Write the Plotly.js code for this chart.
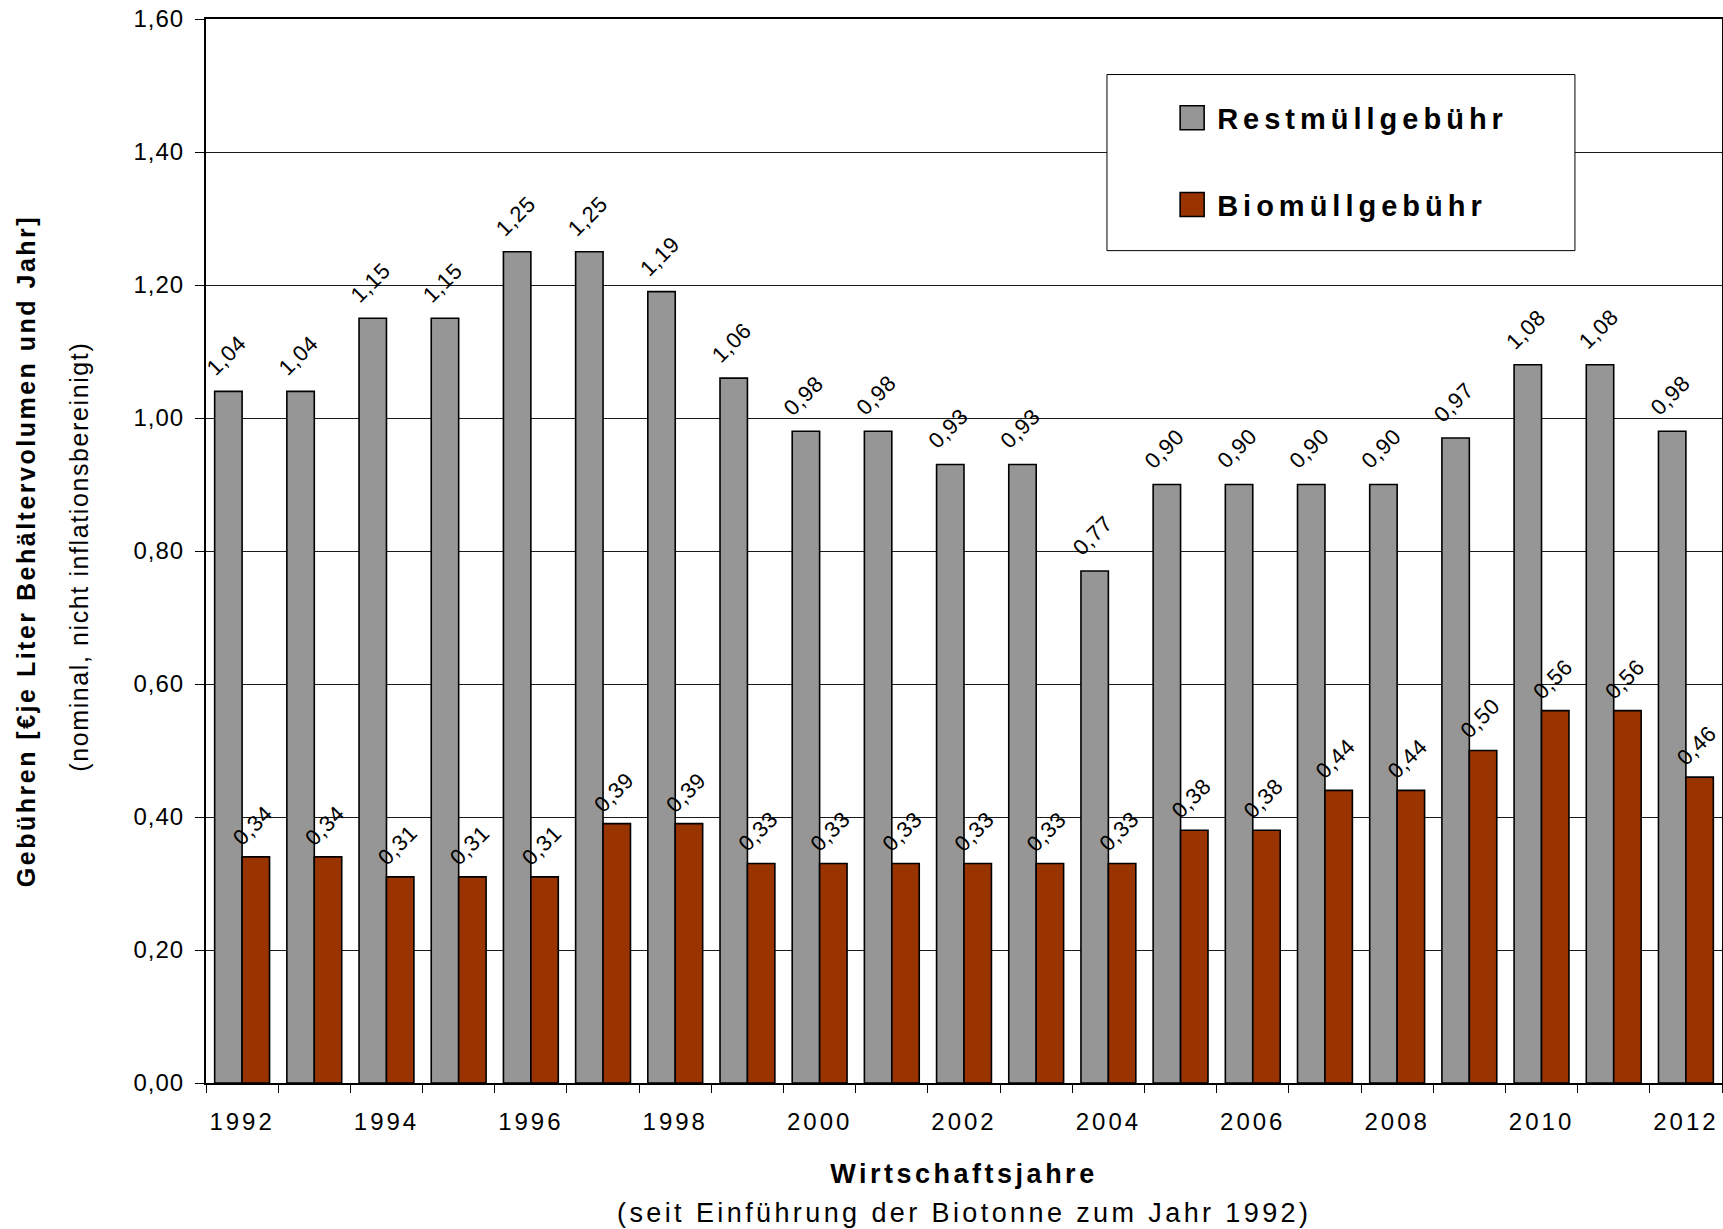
<!DOCTYPE html>
<html>
<head>
<meta charset="utf-8">
<script src="https://cdn.plot.ly/plotly-3.0.1.min.js"></script>
<style>
  html, body { margin: 0; padding: 0; background: #fff; overflow: hidden; }
  #chart { width: 1723px; height: 1229px; }
  .xtick text { letter-spacing: 3px; }
  .ytick text { letter-spacing: 1px; }
  text.xtitle { letter-spacing: 3.5px; }
  text.ytitle { letter-spacing: 2.5px; }
  .legendtext { letter-spacing: 5px; }
</style>
</head>
<body>
<div id="chart"></div>
<script>
// ---- data ----
const years = ['1992','1993','1994','1995','1996','1997','1998','1999','2000','2001','2002',
               '2003','2004','2005','2006','2007','2008','2009','2010','2011','2012'];
const tickLabels = ['1992','','1994','','1996','','1998','','2000','','2002',
                    '','2004','','2006','','2008','','2010','','2012'];
const restmuell = [1.04,1.04,1.15,1.15,1.25,1.25,1.19,1.06,0.98,0.98,0.93,
                   0.93,0.77,0.90,0.90,0.90,0.90,0.97,1.08,1.08,0.98];
const biomuell  = [0.34,0.34,0.31,0.31,0.31,0.39,0.39,0.33,0.33,0.33,0.33,
                   0.33,0.33,0.38,0.38,0.44,0.44,0.50,0.56,0.56,0.46];
const seriesNames = ['Restmüllgebühr','Biomüllgebühr'];
const yTitle = 'Gebühren [€je Liter Behältervolumen und Jahr]';
const ySubtitle = '(nominal, nicht inflationsbereinigt)';
const xTitle = 'Wirtschaftsjahre';
const xSubtitle = '(seit Einführung der Biotonne zum Jahr 1992)';

const FONT = 'Liberation Sans, Arial, Helvetica, sans-serif';
const fmt = v => v.toFixed(2).replace('.', ',');

const traces = [
  { type: 'bar', name: seriesNames[0], x: years, y: restmuell, legendgroup: 'a',
    marker: { color: '#969696', line: { color: '#000', width: 1.6 } }, hoverinfo: 'skip' },
  { type: 'bar', name: seriesNames[1], x: years, y: biomuell, legendgroup: 'b',
    marker: { color: '#993300', line: { color: '#000', width: 1.6 } }, hoverinfo: 'skip' }
];

const annotations = [];
const labelShift = 13.7;
// category axis: annotation x uses the category serial number
restmuell.forEach((v, i) => annotations.push({
  x: i, y: v, xref: 'x', yref: 'y', text: '<span style="letter-spacing:0.6px">' + fmt(v) + '</span>',
  textangle: -45, showarrow: false, xanchor: 'center', yanchor: 'bottom',
  xshift: -labelShift - 2, yshift: 8,
  font: { size: 22, family: FONT, color: '#000' }
}));
biomuell.forEach((v, i) => annotations.push({
  x: i, y: v, xref: 'x', yref: 'y', text: '<span style="letter-spacing:0.6px">' + fmt(v) + '</span>',
  textangle: -45, showarrow: false, xanchor: 'center', yanchor: 'bottom',
  xshift: labelShift - 3, yshift: 4,
  font: { size: 22, family: FONT, color: '#000' }
}));
annotations.push({
  xref: 'paper', yref: 'paper', x: 0.5, y: -0.1222, xanchor: 'center', yanchor: 'middle',
  showarrow: false, text: '<span style="letter-spacing:3.4px">' + xSubtitle + '</span>',
  font: { size: 27, family: FONT, color: '#000' }
});
annotations.push({
  xref: 'paper', yref: 'paper', x: -0.0838, y: 0.4946, xanchor: 'center', yanchor: 'middle',
  textangle: -90, showarrow: false,
  text: '<span style="letter-spacing:1.6px">' + ySubtitle + '</span>',
  font: { size: 25, family: FONT, color: '#000' }
});

const layout = {
  width: 1723, height: 1229,
  margin: { l: 206, r: 1, t: 19, b: 146, pad: 0 },
  paper_bgcolor: '#fff', plot_bgcolor: '#fff',
  font: { family: FONT, color: '#000', size: 22 },
  separators: ',.',
  barmode: 'group', bargap: 0.24, bargroupgap: 0,
  showlegend: true,
  legend: {
    x: 0.634, xanchor: 'left', y: 0.931, yanchor: 'top',
    bgcolor: 'rgba(0,0,0,0)', borderwidth: 0,
    font: { size: 29, family: FONT, weight: 700, color: '#000' },
    itemwidth: 40, traceorder: 'grouped', tracegroupgap: 46, itemclick: false
  },
  shapes: [{
    type: 'rect', xref: 'paper', yref: 'paper',
    x0: 0.5943, x1: 0.903, y0: 0.7823, y1: 0.9478,
    fillcolor: '#fff', line: { color: '#000', width: 1 }, layer: 'above'
  }],
  xaxis: {
    type: 'category', range: [-0.5, 20.5], fixedrange: true,
    tickmode: 'array', tickvals: years, ticktext: tickLabels, tickson: 'boundaries',
    ticks: 'outside', ticklen: 8, tickwidth: 1, tickcolor: '#000',
    showline: true, linecolor: '#000', linewidth: 2, mirror: true,
    showgrid: false, zeroline: false,
    tickfont: { size: 24, family: FONT, color: '#000' },
    ticklabelstandoff: 16,
    title: { text: xTitle, standoff: 30, font: { size: 27, family: FONT, weight: 700, color: '#000' } },
    automargin: false
  },
  yaxis: {
    range: [0, 1.6], dtick: 0.2, tick0: 0, tickformat: '.2f', fixedrange: true,
    ticks: 'outside', ticklen: 9, tickwidth: 1, tickcolor: '#000',
    showline: true, linecolor: '#000', linewidth: 2, mirror: true,
    showgrid: true, gridcolor: '#1a1a1a', gridwidth: 1, zeroline: false,
    tickfont: { size: 24, family: FONT, color: '#000' },
    ticklabelstandoff: 6,
    title: { text: yTitle, standoff: 91, font: { size: 25, family: FONT, weight: 700, color: '#000' } },
    automargin: false
  },
  annotations: annotations
};

Plotly.newPlot('chart', traces, layout, { displayModeBar: false, staticPlot: true }).then(() => {
  document.querySelectorAll('.legendpoints path').forEach(p => p.setAttribute('d', 'M12,12H-12V-12H12Z'));
});
</script>
</body>
</html>
